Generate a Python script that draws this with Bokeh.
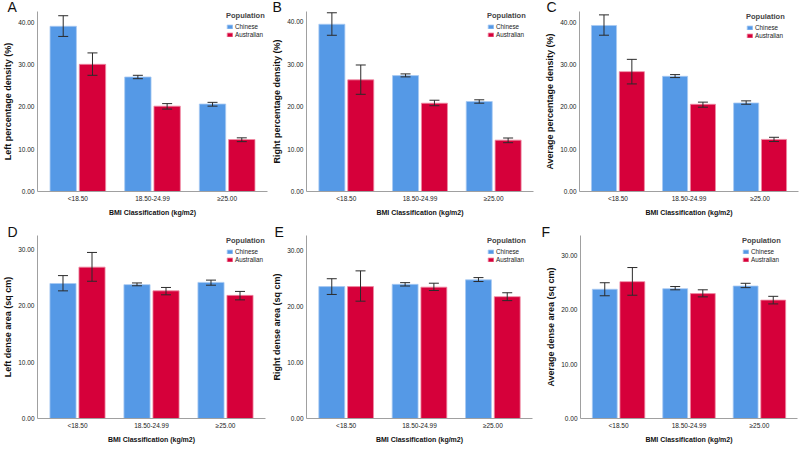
from bokeh.plotting import figure
from bokeh.layouts import row, column
from bokeh.models import (ColumnDataSource, FactorRange, Range1d, Whisker, TeeHead,
                          FixedTicker, NumeralTickFormatter)
from bokeh.transform import dodge
from bokeh.embed import file_html
from bokeh.resources import INLINE

# ---------------- data ----------------
categories = ["<18.50", "18.50-24.99", "\u226525.00"]
x_title = "BMI Classification (kg/m2)"
legend_title = "Population"
populations = ["Chinese", "Australian"]

a_chinese = [39.1, 27.1, 20.7]
a_chinese_lo = [36.7, 26.7, 20.2]
a_chinese_hi = [41.6, 27.5, 21.1]
a_australian = [30.1, 20.2, 12.3]
a_australian_lo = [27.5, 19.5, 11.8]
a_australian_hi = [32.8, 20.8, 12.7]

b_chinese = [39.4, 27.3, 21.2]
b_chinese_lo = [36.8, 27.0, 20.8]
b_chinese_hi = [42.1, 27.7, 21.6]
b_australian = [26.3, 20.8, 12.1]
b_australian_lo = [22.9, 20.2, 11.5]
b_australian_hi = [29.8, 21.5, 12.6]

c_chinese = [39.2, 27.2, 20.9]
c_chinese_lo = [36.9, 26.9, 20.6]
c_chinese_hi = [41.7, 27.6, 21.4]
c_australian = [28.3, 20.6, 12.3]
c_australian_lo = [25.4, 19.9, 11.8]
c_australian_hi = [31.2, 21.1, 12.8]

d_chinese = [23.9, 23.7, 24.1]
d_chinese_lo = [22.6, 23.5, 23.6]
d_chinese_hi = [25.3, 24.0, 24.5]
d_australian = [26.8, 22.6, 21.8]
d_australian_lo = [24.3, 21.9, 21.0]
d_australian_hi = [29.4, 23.2, 22.5]

e_chinese = [23.5, 23.9, 24.7]
e_chinese_lo = [22.1, 23.6, 24.4]
e_chinese_hi = [24.9, 24.2, 25.1]
e_australian = [23.5, 23.4, 21.7]
e_australian_lo = [20.9, 22.8, 21.0]
e_australian_hi = [26.3, 24.1, 22.4]

f_chinese = [23.8, 23.9, 24.4]
f_chinese_lo = [22.6, 23.7, 24.1]
f_chinese_hi = [25.0, 24.3, 24.9]
f_australian = [25.2, 23.0, 21.8]
f_australian_lo = [22.7, 22.4, 21.1]
f_australian_hi = [27.8, 23.7, 22.5]

density_ticks = [0, 10, 20, 30, 40]
area_ticks = [0, 10, 20, 30]

# ---------------- style ----------------
BLUE = "#5599e6"
RED = "#d6003a"
ERR = "#2b2b2b"
AXIS = "#a0a0a0"
FONT = "Liberation Sans"
OFF = 0.196
BAR_W = 0.353
LETTER_H = 16  # assumed text-box height of the 14px panel letter


def make_panel(letter, ylabel, ch, ch_lo, ch_hi, au, au_lo, au_hi, ticks, y_end,
               width, height, borders, legend_xy, letter_dx):
    left, right, top, bottom = borders
    p = figure(x_range=FactorRange(*categories, range_padding=0.027),
               y_range=Range1d(0, y_end),
               width=width, height=height, output_backend="svg",
               toolbar_location=None, min_border_left=left, min_border_right=right,
               min_border_top=0, min_border_bottom=bottom)
    p.outline_line_color = None
    p.xgrid.grid_line_color = None
    p.ygrid.grid_line_color = None

    # panel letter as the (left aligned) title, squeezed into the top border
    p.title.text = letter
    p.title.align = "left"
    p.title.vertical_align = "bottom"
    p.title.offset = letter_dx
    p.title.standoff = top - 2 - LETTER_H
    p.title.text_font = FONT
    p.title.text_font_size = "14px"
    p.title.text_font_style = "normal"
    p.title.text_color = "#111111"

    src = ColumnDataSource(dict(cat=categories, ch=ch, ch_lo=ch_lo, ch_hi=ch_hi,
                                au=au, au_lo=au_lo, au_hi=au_hi))

    p.vbar(x=dodge("cat", -OFF, range=p.x_range), top="ch", width=BAR_W, source=src,
           fill_color=BLUE, line_color="#a8c9f2", line_width=0.8, legend_label=populations[0])
    p.vbar(x=dodge("cat", OFF, range=p.x_range), top="au", width=BAR_W, source=src,
           fill_color=RED, line_color="#ef8aa3", line_width=0.8, legend_label=populations[1])

    for off, lo, hi in ((-OFF, "ch_lo", "ch_hi"), (OFF, "au_lo", "au_hi")):
        w = Whisker(base=dodge("cat", off, range=p.x_range), lower=lo, upper=hi,
                    source=src, line_color=ERR, line_width=1, level="overlay",
                    upper_head=TeeHead(size=10, line_color=ERR, line_width=1),
                    lower_head=TeeHead(size=10, line_color=ERR, line_width=1))
        p.add_layout(w)

    for ax in (p.xaxis[0], p.yaxis[0]):
        ax.axis_line_color = AXIS
        ax.axis_line_width = 1
        ax.major_tick_line_color = None
        ax.minor_tick_line_color = None
        ax.major_tick_out = 0
        ax.major_tick_in = 0
        ax.major_label_text_font = FONT
        ax.major_label_text_font_size = "6.5px"
        ax.major_label_text_color = "#222222"
        ax.axis_label_text_font = FONT
        ax.axis_label_text_font_style = "bold"
        ax.axis_label_text_color = "#111111"

    p.yaxis.ticker = FixedTicker(ticks=ticks)
    p.yaxis.formatter = NumeralTickFormatter(format="0.00")
    p.yaxis.axis_label = ylabel
    p.yaxis.axis_label_text_font_size = "9px"
    p.yaxis.major_label_standoff = 3
    p.yaxis.axis_label_standoff = 2

    p.xaxis.axis_label = x_title
    p.xaxis.axis_label_text_font_size = "7px"
    p.xaxis.major_label_standoff = 3
    p.xaxis.axis_label_standoff = 4

    lg = p.legend[0]
    lg.title = legend_title
    lg.title_text_font = FONT
    lg.title_text_font_style = "bold"
    lg.title_text_font_size = "7.5px"
    lg.title_standoff = 2
    lg.label_text_font = FONT
    lg.label_text_font_size = "6.3px"
    lg.label_text_color = "#222222"
    lg.label_height = 8
    lg.label_standoff = 2
    lg.glyph_width = 7
    lg.glyph_height = 5
    lg.spacing = 0
    lg.padding = 1
    lg.margin = 0
    lg.location = legend_xy
    lg.border_line_color = None
    lg.background_fill_alpha = 0
    return p


pA = make_panel("A", "Left percentage density (%)", a_chinese, a_chinese_lo, a_chinese_hi,
                a_australian, a_australian_lo, a_australian_hi, density_ticks, 42.6,
                269, 225, (29, 2, 11, 34), (189, 153), -30)
pB = make_panel("B", "Right percentage density (%)", b_chinese, b_chinese_lo, b_chinese_hi,
                b_australian, b_australian_lo, b_australian_hi, density_ticks, 42.4,
                273, 225, (33, 9, 11, 34), (181, 153), -34)
pC = make_panel("C", "Average percentage density (%)", c_chinese, c_chinese_lo, c_chinese_hi,
                c_australian, c_australian_lo, c_australian_hi, density_ticks, 42.5,
                258, 225, (33, 2, 11, 34), (167, 152), -33)
pD = make_panel("D", "Left dense area (sq cm)", d_chinese, d_chinese_lo, d_chinese_hi,
                d_australian, d_australian_lo, d_australian_hi, area_ticks, 32.4,
                269, 224, (29, 4, 10, 31), (189, 155), -30)
pE = make_panel("E", "Right dense area (sq cm)", e_chinese, e_chinese_lo, e_chinese_hi,
                e_australian, e_australian_lo, e_australian_hi, area_ticks, 32.6,
                273, 224, (34, 10, 10, 31), (181, 155), -32)
pF = make_panel("F", "Average dense area (sq cm)", f_chinese, f_chinese_lo, f_chinese_hi,
                f_australian, f_australian_lo, f_australian_hi, area_ticks, 33.7,
                258, 224, (38, 3, 10, 28), (162, 155), -39)

layout = column(row(pA, pB, pC), row(pD, pE, pF))

open("out.html", "w").write(file_html(layout, INLINE))
